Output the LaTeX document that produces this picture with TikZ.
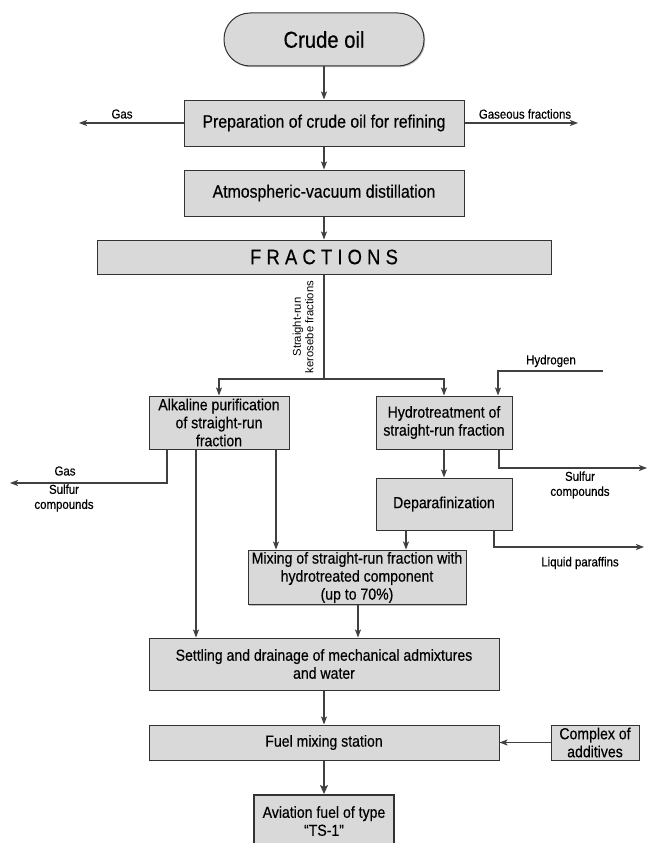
\documentclass[tikz,border=0pt]{standalone}
\usepackage{fontspec}
\setmainfont[FakeStretch=0.88,FakeBold=0.4]{Liberation Sans}
\newfontfamily\vlabfont{Liberation Sans}
\usetikzlibrary{arrows.meta,shadows,calc}
\definecolor{boxfill}{HTML}{D9D9D9}
\definecolor{linecol}{HTML}{404040}
\definecolor{edgecol}{HTML}{333333}
\tikzset{
  procbox/.style={draw=edgecol, line width=1pt, fill=boxfill, align=center, inner sep=2pt,
    drop shadow={shadow xshift=1.2pt, shadow yshift=-1.2pt, fill=black!25, opacity=1}},
  bigtxt/.style={font=\fontsize{18}{21}\selectfont},
  midtxt/.style={font=\fontsize{16}{18}\selectfont},
  smalltxt/.style={font=\fontsize{13}{15}\selectfont, align=center, inner sep=0pt},
  flow/.style={draw=linecol, line width=1.2pt, -{Stealth[length=8pt,width=6pt,inset=1.8pt]}},
  plainline/.style={draw=linecol, line width=1.2pt},
  thickflow/.style={draw=linecol, line width=2.6pt, -{Stealth[length=9pt,width=8pt,inset=2pt]}}
}
\begin{document}
\begin{tikzpicture}[x=1pt,y=-1pt]
\useasboundingbox (0,0) rectangle (650,843);
\clip (0,0) rectangle (650,843);
\fill[white] (0,0) rectangle (650,843);

% nodes
\node[procbox, rounded corners=26pt, minimum width=200pt, minimum height=53pt,
      font=\fontsize{23}{26}\selectfont] (crude) at (324,39.5) {Crude oil};
\node[procbox, bigtxt, minimum width=280pt, minimum height=46pt] (prep) at (324,123) {Preparation of crude oil for refining};
\node[procbox, bigtxt, minimum width=280pt, minimum height=46pt] (atm) at (324,193) {Atmospheric-vacuum distillation};
\node[procbox, font=\fontsize{21}{24}\selectfont, minimum width=454pt, minimum height=34pt] (frac) at (324,257) {F R A C T I O N S};
\node[procbox, midtxt, minimum width=140pt, minimum height=53pt] (alk) at (219,422.5) {Alkaline purification\\of straight-run\\fraction};
\node[procbox, midtxt, minimum width=136pt, minimum height=53pt] (hyd) at (444,422.5) {Hydrotreatment of\\straight-run fraction};
\node[procbox, midtxt, minimum width=136pt, minimum height=52pt] (dep) at (444,504) {Deparafinization};
\node[procbox, midtxt, minimum width=218pt, minimum height=51pt] (mix) at (357,577.5) {Mixing of straight-run fraction with\\hydrotreated component\\(up to 70\%)};
\node[procbox, midtxt, minimum width=350pt, minimum height=52pt] (set) at (324,664) {Settling and drainage of mechanical admixtures\\and water};
\node[procbox, midtxt, minimum width=350pt, minimum height=35pt] (fuel) at (324,742.5) {Fuel mixing station};
\node[procbox, midtxt, minimum width=88pt, minimum height=35pt] (cplx) at (595,742.5) {Complex of\\additives};
\node[draw=edgecol, line width=2.4pt, fill=boxfill, midtxt, align=center, anchor=north,
      minimum width=140pt, inner ysep=11pt] (avi) at (324,794) {Aviation fuel of type\\“TS-1”};

% free ends
\coordinate (gasL) at (79,123);
\coordinate (gasR) at (578,123);
\coordinate (j) at (324,379);
\coordinate (hS) at (603,371);
\coordinate (sR) at (647,468);
\coordinate (lpE) at (644,547);
\coordinate (gasW) at (10,483);
\coordinate (h1) at ([xshift=54pt]hyd.north);
\coordinate (h2) at ([xshift=55pt]hyd.south);
\coordinate (d1) at ([xshift=-38pt]dep.south);
\coordinate (d2) at ([xshift=50pt]dep.south);
\coordinate (a1) at ([xshift=-52pt]alk.south);
\coordinate (a2) at ([xshift=-23pt]alk.south);
\coordinate (a3) at ([xshift=57pt]alk.south);
\coordinate (m1) at ([xshift=1pt]mix.south);

% connectors
\draw[flow] (crude) -- (prep);
\draw[flow] (prep.west) -- (gasL);
\draw[flow] (prep.east) -- (gasR);
\draw[flow] (prep) -- (atm);
\draw[flow] (atm) -- (frac);
\draw[plainline] (frac.south) -- (j);
\draw[flow] (j) -| (alk.north);
\draw[flow] (j) -| (hyd.north);
\draw[flow] (hS) -| (h1);
\draw[flow] (h2) |- (sR);
\draw[flow] (hyd) -- (dep);
\draw[flow] (d1) -- (d1 |- mix.north);
\draw[flow] (d2) |- (lpE);
\draw[flow] (a1) |- (gasW);
\draw[flow] (a2) -- (a2 |- set.north);
\draw[flow] (a3) -- (a3 |- mix.north);
\draw[flow] (m1) -- (m1 |- set.north);
\draw[flow] (set) -- (fuel);
\draw[flow] (cplx.west) -- (fuel.east);
\draw[thickflow] (fuel.south) -- (avi.north);

% labels
\node[smalltxt] (lgas) at (122,114) {Gas};
\node[smalltxt] (lgasf) at (525,114) {Gaseous fractions};
\node[rotate=90, align=center, inner sep=0pt, font=\vlabfont\fontsize{11.3}{12.5}\selectfont] (lkero) at (303,327) {Straight-run\\kerosebe fractions};
\node[smalltxt] (lhyd) at (551,361) {Hydrogen};
\node[smalltxt] (lsulr) at (580,485) {Sulfur\\compounds};
\node[smalltxt] (lliq) at (580,563) {Liquid paraffins};
\node[smalltxt] (lgas2) at (65,471) {Gas};
\node[smalltxt] (lsull) at (64,498) {Sulfur\\compounds};
\end{tikzpicture}
\end{document}
